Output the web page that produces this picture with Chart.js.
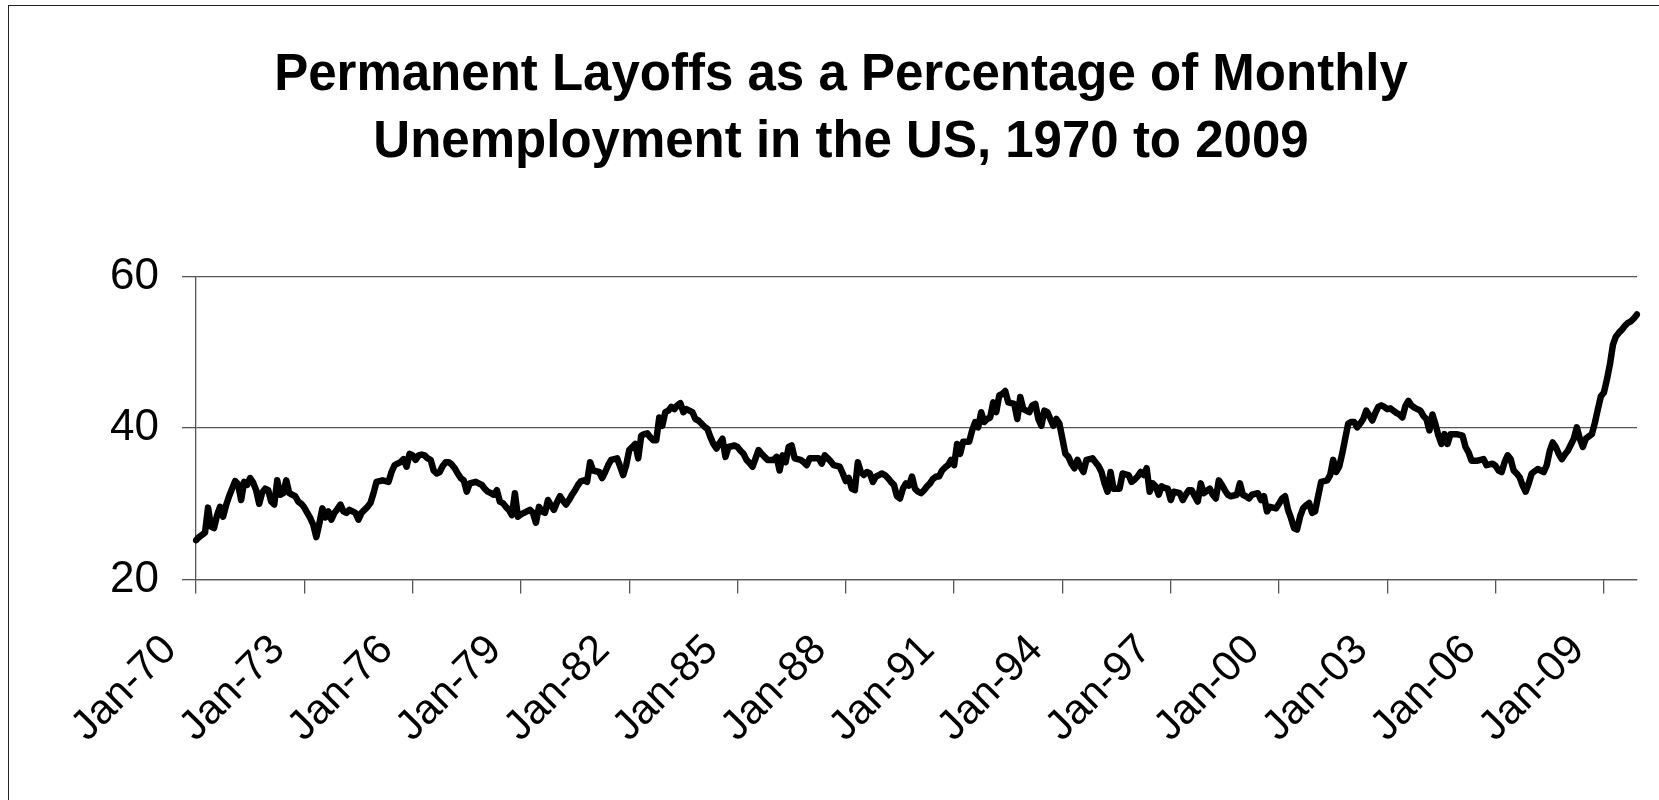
<!DOCTYPE html>
<html>
<head>
<meta charset="utf-8">
<title>Permanent Layoffs</title>
<script src="https://cdn.jsdelivr.net/npm/chart.js@4.4.1/dist/chart.umd.min.js"></script>
<style>
  html, body { margin: 0; padding: 0; background: #fff; }
  #wrap { position: relative; width: 1659px; height: 800px; overflow: hidden; }
  #frame { position: absolute; left: 8px; top: 5px; width: 1700px; height: 900px; border-left: 1.5px solid #222; border-top: 1.5px solid #222; }
  canvas { position: absolute; left: 0; top: 0; }
</style>
</head>
<body>
<div id="wrap">
  <div id="frame"></div>
  <canvas id="grafico" width="1659" height="800"></canvas>
</div>
<script>
// anos e meses do eixo x (Jan-70 ... Dec-09)
const anos = [];
for (let a = 1970; a <= 2009; a++) anos.push(a);
const meses = ['Jan', 'Feb', 'Mar', 'Apr', 'May', 'Jun', 'Jul', 'Aug', 'Sep', 'Oct', 'Nov', 'Dec'];

// valores, um ano por linha
const percentualPermanente = [
  25.2, 25.6, 25.9, 26.2, 29.5, 27.0, 26.8, 28.5, 29.6, 28.3, 29.8, 31.0, // 1970
  32.0, 33.0, 32.6, 30.5, 32.9, 32.5, 33.4, 32.8, 31.8, 30.0, 31.5, 32.0, // 1971
  31.8, 30.3, 29.9, 33.1, 31.2, 31.4, 33.1, 31.4, 31.2, 31.0, 30.3, 30.0, // 1972
  29.5, 28.8, 28.1, 27.2, 25.6, 27.4, 29.4, 28.2, 29.0, 27.9, 28.8, 29.3, // 1973
  29.9, 29.0, 28.8, 29.2, 29.0, 28.8, 27.9, 28.8, 29.2, 29.6, 30.1, 31.4, // 1974
  32.9, 33.0, 33.1, 33.0, 32.9, 34.2, 35.1, 35.3, 35.5, 35.9, 34.9, 36.6, // 1975
  36.4, 35.8, 36.4, 36.5, 36.4, 36.0, 35.8, 34.4, 34.0, 34.2, 35.0, 35.5, // 1976
  35.5, 35.2, 34.7, 34.0, 33.4, 33.1, 31.6, 32.7, 32.8, 32.9, 32.7, 32.5, // 1977
  32.0, 31.6, 31.4, 31.2, 31.8, 30.3, 30.1, 29.6, 29.2, 28.5, 31.4, 28.3, // 1978
  28.6, 28.8, 29.0, 29.2, 28.8, 27.5, 29.6, 29.0, 28.8, 30.5, 29.8, 29.2, // 1979
  30.2, 31.0, 30.4, 29.9, 30.5, 31.2, 31.8, 32.5, 33.0, 33.1, 32.9, 35.5, // 1980
  34.4, 34.3, 34.2, 33.4, 34.2, 35.1, 35.8, 35.9, 36.0, 34.9, 33.8, 35.1, // 1981
  37.1, 37.5, 37.9, 36.0, 39.0, 39.2, 39.3, 38.8, 38.4, 38.4, 41.4, 40.3, // 1982
  42.1, 42.3, 42.8, 42.5, 43.0, 43.3, 42.1, 42.5, 42.3, 42.1, 41.2, 41.0, // 1983
  40.6, 40.2, 39.9, 38.8, 37.9, 37.3, 38.0, 38.6, 36.2, 37.5, 37.6, 37.7, // 1984
  37.5, 37.0, 36.6, 35.8, 35.4, 34.9, 36.0, 37.1, 36.6, 36.2, 35.8, 35.8, // 1985
  35.8, 36.2, 34.4, 36.4, 35.5, 37.5, 37.7, 36.0, 35.9, 35.8, 35.5, 35.1, // 1986
  36.0, 36.0, 36.0, 36.0, 35.3, 36.4, 36.0, 35.6, 35.1, 35.0, 34.9, 34.0, // 1987
  33.0, 33.4, 32.0, 31.8, 35.5, 34.2, 33.8, 34.2, 34.0, 32.9, 33.6, 33.8, // 1988
  34.0, 33.8, 33.4, 32.9, 32.5, 31.0, 30.7, 32.0, 32.7, 32.4, 33.6, 32.0, // 1989
  31.6, 31.4, 31.8, 32.3, 32.7, 33.3, 33.6, 33.6, 34.4, 34.8, 35.1, 35.8, // 1990
  35.1, 37.9, 36.6, 38.2, 38.2, 38.2, 39.7, 40.8, 40.1, 42.1, 40.8, 41.2, // 1991
  41.4, 43.4, 42.1, 44.3, 44.5, 44.9, 43.4, 43.3, 43.2, 41.2, 44.1, 42.5, // 1992
  42.3, 42.1, 43.0, 43.2, 41.2, 40.3, 42.3, 42.1, 41.2, 40.3, 41.2, 40.6, // 1993
  38.6, 36.6, 36.2, 35.3, 34.7, 35.8, 34.9, 34.2, 35.8, 35.9, 36.0, 35.5, // 1994
  35.0, 34.2, 32.7, 31.6, 34.2, 32.0, 32.0, 32.0, 34.0, 33.9, 33.8, 32.9, // 1995
  33.2, 33.6, 34.2, 33.8, 34.7, 31.6, 32.7, 32.3, 31.2, 32.3, 32.1, 32.0, // 1996
  30.5, 31.6, 31.5, 31.4, 30.5, 31.2, 31.8, 31.8, 31.0, 30.3, 32.7, 31.4, // 1997
  31.7, 32.0, 31.2, 30.7, 33.1, 32.5, 31.8, 31.2, 31.0, 31.1, 31.2, 32.7, // 1998
  31.2, 31.0, 30.7, 31.2, 31.3, 31.4, 30.5, 31.0, 29.0, 29.6, 29.5, 29.4, // 1999
  30.0, 30.7, 31.0, 29.2, 28.1, 26.8, 26.6, 28.3, 29.4, 29.8, 30.1, 28.8, // 2000
  29.0, 31.0, 32.9, 33.0, 33.1, 33.8, 35.8, 34.2, 34.9, 36.6, 38.6, 40.6, // 2001
  40.8, 40.8, 40.1, 40.6, 41.2, 42.3, 41.7, 41.0, 42.0, 42.8, 43.0, 42.8, // 2002
  42.5, 42.6, 42.3, 42.0, 41.8, 41.4, 42.9, 43.6, 43.0, 42.7, 42.5, 42.3, // 2003
  41.6, 41.2, 39.7, 41.8, 40.5, 39.0, 37.9, 39.2, 37.9, 39.2, 39.2, 39.2, // 2004
  39.1, 39.0, 37.5, 36.8, 35.7, 35.7, 35.7, 35.8, 35.9, 35.1, 35.2, 35.3, // 2005
  35.0, 34.4, 34.2, 35.5, 36.4, 35.9, 34.4, 34.0, 33.5, 32.4, 31.6, 32.7, // 2006
  34.0, 34.3, 34.6, 34.4, 34.2, 35.1, 37.0, 38.1, 37.5, 36.6, 35.9, 36.5, // 2007
  37.0, 37.8, 38.6, 40.1, 38.6, 37.5, 38.6, 38.9, 39.2, 40.7, 42.5, 44.2, // 2008
  44.7, 46.4, 48.4, 51.0, 52.1, 52.6, 53.0, 53.5, 53.9, 54.1, 54.5, 55.0  // 2009
];

const ticksY = [20, 40, 60];
const intervaloRotulos = 36; // um rotulo a cada 3 anos

const rotulosMeses = [];
anos.forEach(a => {
  meses.forEach(m => rotulosMeses.push(m + '-' + String(a).slice(2)));
});

const fonte = '"Liberation Sans", Arial, sans-serif';
const corEixo = '#555';

const ctx = document.getElementById('grafico').getContext('2d');
new Chart(ctx, {
  type: 'line',
  data: {
    labels: rotulosMeses,
    datasets: [{
      data: percentualPermanente,
      borderColor: '#000',
      borderWidth: 6.5,
      borderJoinStyle: 'round',
      borderCapStyle: 'round',
      pointRadius: 0,
      tension: 0,
      fill: false
    }]
  },
  options: {
    responsive: false,
    animation: false,
    layout: { padding: { left: 45, right: 22, top: 20, bottom: 16 } },
    plugins: {
      legend: { display: false },
      tooltip: { enabled: false },
      title: {
        display: true,
        text: ['Permanent Layoffs as a Percentage of Monthly', 'Unemployment in the US, 1970 to 2009'],
        color: '#000',
        font: { family: fonte, size: 51, weight: 'bold', lineHeight: 1.3 },
        padding: { top: 23, bottom: 101 }
      }
    },
    scales: {
      x: {
        type: 'category',
        offset: false,
        afterBuildTicks: axis => {
          axis.ticks = axis.ticks.filter(t => t.value % intervaloRotulos === 0);
        },
        afterFit: axis => {
          // os rotulos inclinados nao devem empurrar a area do grafico
          axis.paddingLeft = 0;
          axis.paddingRight = 0;
        },
        ticks: {
          autoSkip: false,
          minRotation: 45,
          maxRotation: 45,
          color: '#000',
          font: { family: fonte, size: 42 },
          padding: 32,
          labelOffset: -26
        },
        grid: {
          drawOnChartArea: false,
          drawTicks: true,
          tickLength: 14,
          color: corEixo,
          lineWidth: 1.3
        },
        border: { display: true, color: corEixo, width: 1.3 }
      },
      y: {
        min: 20,
        max: 60,
        afterFit: axis => { axis.width = 151; },
        afterBuildTicks: axis => {
          axis.ticks = ticksY.map(v => ({ value: v }));
        },
        ticks: {
          color: '#000',
          font: { family: fonte, size: 44 },
          padding: 23
        },
        grid: {
          color: corEixo,
          lineWidth: 1.3,
          tickLength: 14
        },
        border: { display: true, color: corEixo, width: 1.3 }
      }
    }
  }
});
</script>
</body>
</html>
